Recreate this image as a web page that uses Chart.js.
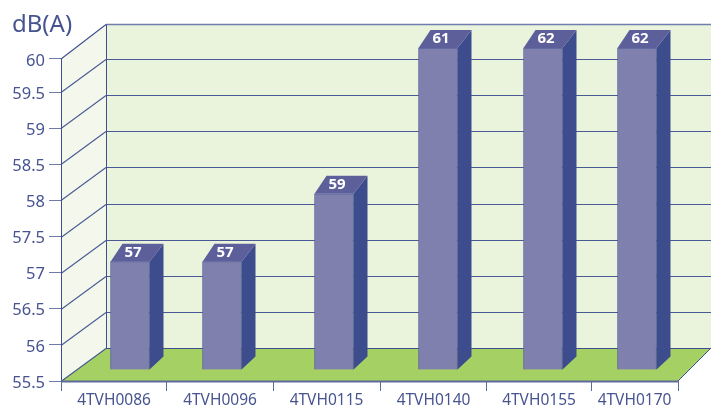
<!DOCTYPE html>
<html><head><meta charset="utf-8">
<style>html,body{margin:0;padding:0;background:#fff}#w{width:711px;height:407px;position:relative}</style>
<script src="https://cdn.jsdelivr.net/npm/chart.js@4/dist/chart.umd.js"></script>
</head><body><div id="w"><canvas id="c"></canvas></div>
<script>
const categories = ["4TVH0086","4TVH0096","4TVH0115","4TVH0140","4TVH0155","4TVH0170"];
const barHeights = [57,57,57.94,60,60,60];
const valueLabels = ["57","57","59","61","62","62"];
const axisTitle = "dB(A)";
const yMin = 55.5, yMax = 60, yStep = 0.5;

// layout offsets, px from the plot's left edge
const barCentres = [69,161,273,377,482,576];
const labelCentres = [53,159,265.5,372.5,478,573.5];
const slotEdges = [0,105,212,319,425,530,617];
const depth = {x:45,y:33,topY:34.5,xRight:33};
const barLift = 11;
const barDepth = {x:14,top:18,bottom:13,topLeft:12};
const barWidth = 39;
const yKnee = 59.5, yKneeFraction = 0.8975;
const ink = "#3f4e8f", textInk = "#47548f";

class SlottedScale extends Chart.CategoryScale {
  getPixelForValue(v, i){ const k = i===undefined? v : i; return this.left + barCentres[k]; }
  getPixelForTick(i){ return this.left + labelCentres[i]; }
}
SlottedScale.id = "slotted";
SlottedScale.defaults = Chart.CategoryScale.defaults;

class KneedScale extends Chart.LinearScale {
  getPixelForValue(v){
    const H = this.bottom - this.top;
    if (v <= yKnee) return this.bottom - (v - yMin) / (yKnee - yMin) * yKneeFraction * H;
    return this.bottom - yKneeFraction * H - (v - yKnee) / (yMax - yKnee) * (1 - yKneeFraction) * H;
  }
}
KneedScale.id = "kneed";
KneedScale.defaults = Chart.LinearScale.defaults;
Chart.register(SlottedScale, KneedScale);

function poly(ctx, pts, fill, stroke){
  ctx.beginPath();
  pts.forEach((p,i)=> i?ctx.lineTo(p[0],p[1]):ctx.moveTo(p[0],p[1]));
  ctx.closePath();
  if(fill){ctx.fillStyle=fill;ctx.fill();}
  if(stroke){ctx.strokeStyle=stroke;ctx.lineWidth=1;ctx.stroke();}
}
function line(ctx,x1,y1,x2,y2,c,w){
  ctx.beginPath();ctx.moveTo(x1,y1);ctx.lineTo(x2,y2);ctx.strokeStyle=c;ctx.lineWidth=w||1;ctx.stroke();
}
const room = {
  id:"room",
  beforeDatasetsDraw(chart){
    const {ctx,scales:{x,y}} = chart;
    const L=x.left,R=x.right,T=y.getPixelForValue(yMax),B=y.getPixelForValue(yMin);
    const bx=L+depth.x, rx=R+depth.xRight, backT=T-depth.topY, backB=B-depth.y;
    ctx.save();
    poly(ctx,[[bx,backT],[rx,backT],[rx,backB],[bx,backB]],"#eaf4dc");
    poly(ctx,[[L,T],[bx,backT],[bx,backB],[L,B]],"#f4f8ec");
    poly(ctx,[[L,B],[bx,backB],[rx,backB],[R,B]],"#a5d164");
    y.ticks.forEach(t=>{
      if(t.value===yMax) return;
      const py=Math.round(y.getPixelForValue(t.value))+0.5;
      line(ctx,L,py,bx,py-depth.y,"#4a5996",1.1);
      if(t.value>yMin) line(ctx,bx,py-depth.y,rx,py-depth.y,"#4a5996",1.2);
    });
    line(ctx,L,T,bx,backT,ink,1.1);
    line(ctx,bx,backT,rx,backT,"#6f7db0",1.5);
    line(ctx,bx+.5,backT,bx+.5,backB,ink);
    line(ctx,L+.5,T,L+.5,B,ink);
    line(ctx,bx,backB+.5,rx,backB+.5,ink,1.2);
    line(ctx,R,B,rx,backB,ink);
    line(ctx,L,B+.5,R,B+.5,"#5f6a9c",2);
    slotEdges.forEach(e=>line(ctx,Math.round(L+e)+.5,B,Math.round(L+e)+.5,B+10,"#5f6a9c"));
    ctx.font="24px 'Noto Sans'";ctx.fillStyle=textInk;ctx.textAlign="left";ctx.textBaseline="alphabetic";
    ctx.fillText(axisTitle,12,31.5);
    ctx.restore();
    ctx.save();
    ctx.translate(0,-barLift);
  },
  afterDatasetsDraw(chart){
    const {ctx} = chart;
    chart.getDatasetMeta(0).data.forEach((b,i)=>{
      const lx=b.x-barWidth/2, rx=b.x+barWidth/2, t=b.y, bt=b.base;
      poly(ctx,[[rx,t],[rx+barDepth.x,t-barDepth.top],[rx+barDepth.x,bt-barDepth.bottom],[rx,bt]],"#3c4c8c");
      poly(ctx,[[lx,t],[lx+barDepth.topLeft,t-barDepth.top],[rx+barDepth.x,t-barDepth.top],[rx,t]],"#5c5f9a");
      ctx.font="bold 15px 'Noto Sans'";ctx.fillStyle="#fff";ctx.textAlign="center";ctx.textBaseline="middle";
      ctx.fillText(valueLabels[i],b.x+3,t-9);
    });
    ctx.restore();
  }
};
new Chart(document.getElementById("c"),{
  type:"bar",
  data:{labels:categories,datasets:[{data:barHeights,base:yMin,backgroundColor:"#8080ae",borderColor:"#5a659f",borderWidth:1,barThickness:barWidth,clip:false}]},
  plugins:[room],
  options:{
    responsive:true,maintainAspectRatio:false,animation:false,
    layout:{padding:{top:59,right:33,left:0,bottom:0}},
    plugins:{legend:{display:false},tooltip:{enabled:false}},
    scales:{
      x:{type:"slotted",offset:true,afterFit(s){s.height=26;},
        border:{display:false},grid:{display:false},
        ticks:{color:textInk,font:{family:"Noto Sans",size:15.5},maxRotation:0,autoSkip:false,padding:2}},
      y:{type:"kneed",min:yMin,max:yMax,afterFit(s){s.width=61;},
        border:{display:false},
        grid:{drawOnChartArea:false,drawTicks:true,tickLength:12,color:"#6f7ba8"},
        ticks:{stepSize:yStep,color:textInk,font:{family:"Noto Sans",size:16.5},padding:4,labelOffset:2,callback:v=>String(v)}}
    }
  }
});
</script></body></html>
